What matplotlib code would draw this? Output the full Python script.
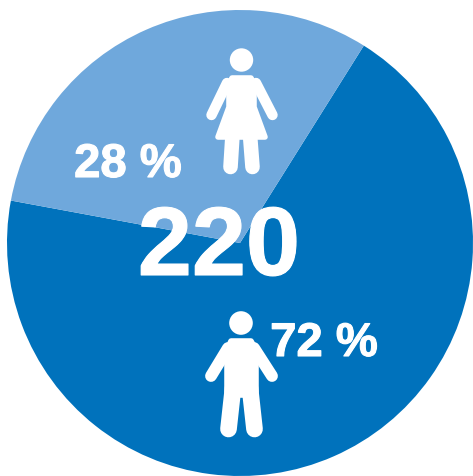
import matplotlib
matplotlib.use("Agg")
import matplotlib.pyplot as plt
from matplotlib.patches import Circle, Polygon
import matplotlib.patheffects as pe

# Gender split. The drawn wedges are not quite the printed labels.
labels = ["72 %", "28 %"]
shares = [69, 31]
total_label = "220"
colors = ["#0072bc", "#6fa8dc"]

W, H = 473, 476
plt.rcParams['font.family'] = ['Liberation Sans', 'DejaVu Sans']

fig = plt.figure(figsize=(W / 100, H / 100), dpi=100)
ax = fig.add_axes([0, 0, 1, 1])

ax.pie(shares, colors=colors, startangle=57.9, counterclock=False,
       center=(240, -243), radius=233, frame=True)
ax.set_xlim(0, W)
ax.set_ylim(-H, 0)
ax.set_aspect('equal')
ax.axis('off')


# icons are given in image pixels, y going down
def shape(points):
    pts = [(x, -y) for x, y in points]
    ax.add_patch(Polygon(pts, closed=True, fc='white', ec='white', lw=4, joinstyle='round', zorder=3))


def limb(x1, y1, x2, y2, w):
    ax.plot([x1, x2], [-y1, -y2], color='white', lw=w, solid_capstyle='round', zorder=3)


def head(x, y, r):
    ax.add_patch(Circle((x, -y), r, fc='white', ec='none', zorder=3))


# woman
head(241.5, 60, 11.7)
shape([(232, 78), (251, 78), (254, 84), (254, 107), (265, 137), (218, 137), (229, 107), (229, 84)])
limb(227, 83, 211.5, 115, 7.5)
limb(256, 83, 272.5, 115, 7.5)
limb(232.5, 135, 230.5, 167, 10.5)
limb(250, 135, 252.5, 167, 10.5)

# man
head(241, 323, 11.8)
shape([(231, 341), (251, 341), (256, 350), (256, 392), (227, 392), (227, 350)])
limb(228, 348, 211, 376, 8.5)
limb(254, 348, 272, 376, 8.5)
limb(233, 388, 228.5, 429, 12)
limb(250, 388, 254.5, 429, 12)
shape([(231, 392), (252, 392), (243, 395), (240, 395)])

bold = [pe.withStroke(linewidth=0.8, foreground='white')]
ax.text(128, -177, labels[1], color='white', fontsize=34, fontweight='bold', ha='center', va='baseline',
        zorder=4, path_effects=bold)
ax.text(324, -356, labels[0], color='white', fontsize=34, fontweight='bold', ha='center', va='baseline',
        zorder=4, path_effects=bold)
ax.text(219, -275, total_label, color='white', fontsize=70, fontweight='bold', ha='center', va='baseline',
        zorder=4, path_effects=bold)

fig.savefig("out.png", dpi=100)
